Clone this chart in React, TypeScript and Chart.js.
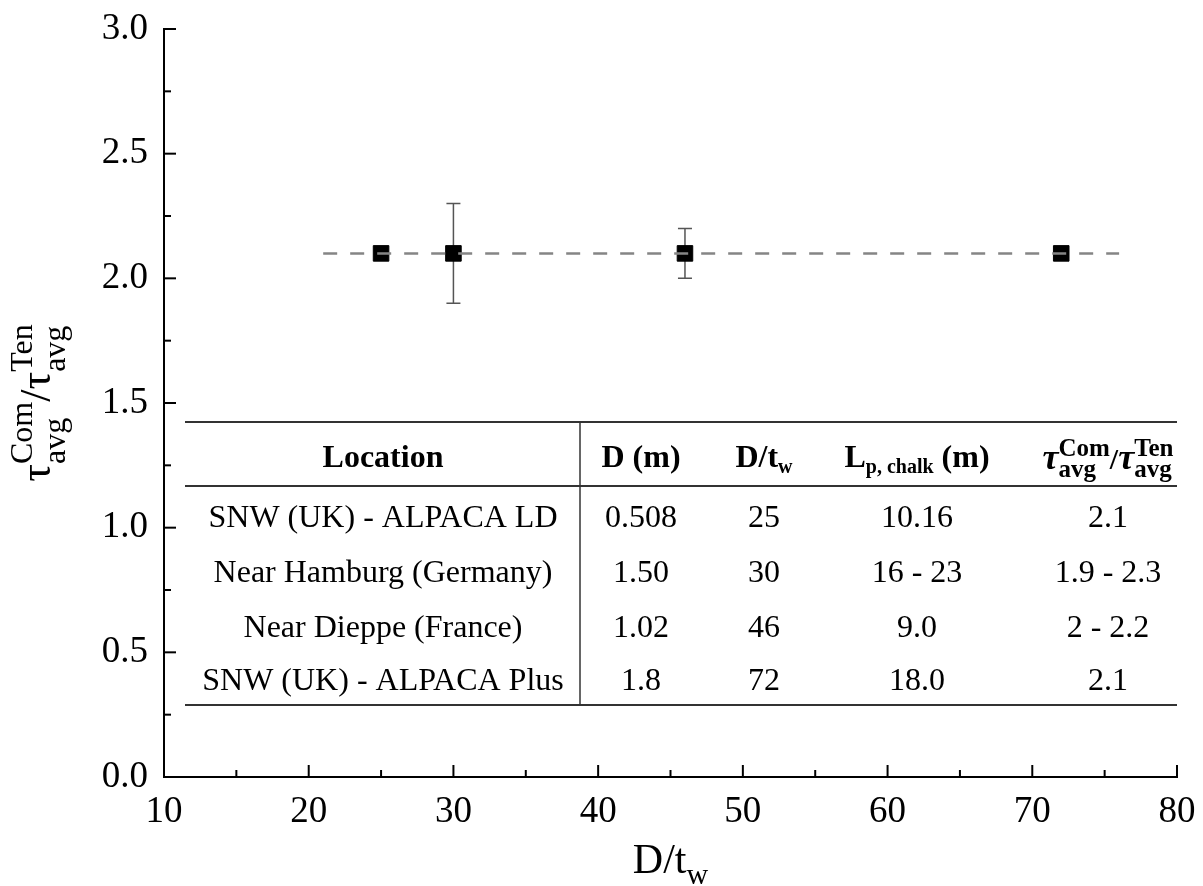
import React, { useEffect, useRef } from 'react';
import { Chart, registerables } from 'chart.js';

Chart.register(...registerables);

// ---------- data ----------
const slendernessValues = [25, 30, 46, 72];
const ratioValues = [2.1, 2.1, 2.1, 2.1];
const ratioLow: (number | null)[] = [null, 1.9, 2.0, null];
const ratioHigh: (number | null)[] = [null, 2.3, 2.2, null];
const trendX = [21, 76];
const trendY = [2.1, 2.1];

const X_MIN = 10;
const X_MAX = 80;
const X_STEP = 10;
const Y_MIN = 0;
const Y_MAX = 3;
const Y_STEP = 0.5;

const tableLocations = [
  'SNW (UK) - ALPACA LD',
  'Near Hamburg (Germany)',
  'Near Dieppe (France)',
  'SNW (UK) - ALPACA Plus',
];
const tableDiameters = ['0.508', '1.50', '1.02', '1.8'];
const tableSlenderness = ['25', '30', '46', '72'];
const tablePileLengths = ['10.16', '16 - 23', '9.0', '18.0'];
const tableRatios = ['2.1', '1.9 - 2.3', '2 - 2.2', '2.1'];

// ---------- styling ----------
const SERIF = '"Liberation Serif", "Times New Roman", serif';
const f = (size: number, style = '') => `${style} ${size}px ${SERIF}`.trim();

type Piece = { t: string; font: string; dy?: number; stackNext?: boolean };

function measurePieces(ctx: CanvasRenderingContext2D, pieces: Piece[]) {
  let cursor = 0;
  let stackStart: number | null = null;
  let stackW = 0;
  const pos: number[] = [];
  pieces.forEach((p) => {
    ctx.font = p.font;
    const w = ctx.measureText(p.t).width;
    if (stackStart !== null) {
      pos.push(stackStart);
      cursor = stackStart + Math.max(stackW, w);
      stackStart = null;
    } else if (p.stackNext) {
      pos.push(cursor);
      stackStart = cursor;
      stackW = w;
    } else {
      pos.push(cursor);
      cursor += w;
    }
  });
  return { pos, width: cursor };
}

function drawPieces(
  ctx: CanvasRenderingContext2D,
  pieces: Piece[],
  x: number,
  y: number,
  align: 'center' | 'left' = 'center'
) {
  const { pos, width } = measurePieces(ctx, pieces);
  const x0 = align === 'center' ? x - width / 2 : x;
  ctx.textAlign = 'left';
  ctx.textBaseline = 'alphabetic';
  pieces.forEach((p, i) => {
    ctx.font = p.font;
    ctx.fillText(p.t, x0 + pos[i], y + (p.dy || 0));
  });
}

const overlayPlugin = {
  id: 'overlay',
  beforeDatasetsDraw(chart: any) {
    const ctx: CanvasRenderingContext2D = chart.ctx;
    const xs = chart.scales.x;
    const ys = chart.scales.y;
    ctx.save();
    ctx.strokeStyle = '#555';
    ctx.lineWidth = 1.5;
    slendernessValues.forEach((xv, i) => {
      const lo = ratioLow[i];
      const hi = ratioHigh[i];
      if (lo === null || hi === null) return;
      const px = xs.getPixelForValue(xv);
      const pLo = ys.getPixelForValue(lo);
      const pHi = ys.getPixelForValue(hi);
      ctx.beginPath();
      ctx.moveTo(px, pLo);
      ctx.lineTo(px, pHi);
      ctx.moveTo(px - 7, pLo);
      ctx.lineTo(px + 7, pLo);
      ctx.moveTo(px - 7, pHi);
      ctx.lineTo(px + 7, pHi);
      ctx.stroke();
    });
    ctx.restore();
  },
  afterDraw(chart: any) {
    const ctx: CanvasRenderingContext2D = chart.ctx;
    const { left, right, top, bottom } = chart.chartArea;
    const xs = chart.scales.x;
    const ys = chart.scales.y;
    ctx.save();

    // axes
    ctx.strokeStyle = '#000';
    ctx.lineWidth = 2;
    ctx.beginPath();
    ctx.moveTo(left, top - 1);
    ctx.lineTo(left, bottom);
    ctx.lineTo(right + 1, bottom);
    ctx.stroke();

    // x ticks (inward, with minors)
    for (let i = 0; i <= (X_MAX - X_MIN) / 5; i++) {
      const v = X_MIN + i * 5;
      const px = xs.getPixelForValue(v);
      const len = v % X_STEP === 0 ? 12 : 7;
      ctx.beginPath();
      ctx.moveTo(px, bottom);
      ctx.lineTo(px, bottom - len);
      ctx.stroke();
    }
    // y ticks (inward, with minors)
    for (let i = 0; i <= (Y_MAX - Y_MIN) / 0.25; i++) {
      const v = Y_MIN + i * 0.25;
      const py = ys.getPixelForValue(v);
      const len = i % 2 === 0 ? 12 : 7;
      ctx.beginPath();
      ctx.moveTo(left, py);
      ctx.lineTo(left + len, py);
      ctx.stroke();
    }

    ctx.fillStyle = '#000';

    // x title D/t_w
    drawPieces(
      ctx,
      [
        { t: 'D/t', font: f(42) },
        { t: 'w', font: f(30), dy: 11 },
      ],
      (left + right) / 2,
      873
    );

    // y title
    ctx.save();
    ctx.translate(50, (top + bottom) / 2);
    ctx.rotate(-Math.PI / 2);
    drawPieces(
      ctx,
      [
        { t: 'τ', font: f(44) },
        { t: 'Com', font: f(32), dy: -18, stackNext: true },
        { t: 'avg', font: f(32), dy: 15 },
        { t: '/', font: f(44) },
        { t: 'τ', font: f(44) },
        { t: 'Ten', font: f(32), dy: -18, stackNext: true },
        { t: 'avg', font: f(32), dy: 15 },
      ],
      0,
      0
    );
    ctx.restore();

    // ---------- table ----------
    const tL = 185;
    const tR = right;
    const tTop = 422;
    const tHead = 486;
    const tBot = 705;
    const tDiv = 580;
    ctx.strokeStyle = '#333';
    ctx.lineWidth = 2;
    ctx.beginPath();
    ctx.moveTo(tL, tTop);
    ctx.lineTo(tR, tTop);
    ctx.moveTo(tL, tHead);
    ctx.lineTo(tR, tHead);
    ctx.moveTo(tL, tBot);
    ctx.lineTo(tR, tBot);
    ctx.stroke();
    ctx.lineWidth = 1.5;
    ctx.beginPath();
    ctx.moveTo(tDiv, tTop);
    ctx.lineTo(tDiv, tBot);
    ctx.stroke();

    const colX = [383, 641, 764, 917, 1108];
    const headBase = 467;
    const bold = (s: number) => f(s, 'bold');
    drawPieces(ctx, [{ t: 'Location', font: bold(32) }], colX[0], headBase);
    drawPieces(ctx, [{ t: 'D (m)', font: bold(32) }], colX[1], headBase);
    drawPieces(
      ctx,
      [
        { t: 'D/t', font: bold(32) },
        { t: 'w', font: bold(20), dy: 6 },
      ],
      colX[2],
      headBase
    );
    drawPieces(
      ctx,
      [
        { t: 'L', font: bold(32) },
        { t: 'p, chalk', font: bold(20), dy: 6 },
        { t: ' (m)', font: bold(32) },
      ],
      colX[3],
      headBase
    );
    drawPieces(
      ctx,
      [
        { t: 'τ', font: f(36, 'italic bold') },
        { t: 'Com', font: bold(25), dy: -13, stackNext: true },
        { t: 'avg', font: bold(25), dy: 8 },
        { t: '/', font: bold(30) },
        { t: 'τ', font: f(36, 'italic bold') },
        { t: 'Ten', font: bold(25), dy: -13, stackNext: true },
        { t: 'avg', font: bold(25), dy: 8 },
      ],
      colX[4],
      headBase + 2
    );

    const rowBase = [527, 582, 637, 690];
    const cols = [tableLocations, tableDiameters, tableSlenderness, tablePileLengths, tableRatios];
    rowBase.forEach((yb, r) => {
      cols.forEach((col, c) => {
        drawPieces(ctx, [{ t: col[r], font: f(32) }], colX[c], yb);
      });
    });

    ctx.restore();
  },
};

export default function App() {
  const canvasRef = useRef<HTMLCanvasElement | null>(null);

  useEffect(() => {
    if (!canvasRef.current) return;
    const chart = new Chart(canvasRef.current, {
      type: 'scatter',
      data: {
        datasets: [
          {
            type: 'line',
            label: 'Trend',
            data: trendX.map((x, i) => ({ x, y: trendY[i] })),
            borderColor: '#858585',
            borderWidth: 2.5,
            borderDash: [14, 13],
            pointRadius: 0,
            fill: false,
            order: 0,
          } as any,
          {
            label: 'Data',
            data: slendernessValues.map((x, i) => ({ x, y: ratioValues[i] })),
            pointStyle: 'rect',
            pointRadius: 11,
            backgroundColor: '#000',
            borderColor: '#000',
            borderWidth: 1,
            order: 1,
          },
        ],
      },
      options: {
        responsive: false,
        animation: false,
        events: [],
        layout: { padding: { top: 29, right: 26, left: 0, bottom: 0 } },
        plugins: {
          legend: { display: false },
          tooltip: { enabled: false },
          title: { display: false },
        },
        scales: {
          x: {
            type: 'linear',
            min: X_MIN,
            max: X_MAX,
            grid: { display: false, drawTicks: false },
            border: { display: false },
            ticks: {
              stepSize: X_STEP,
              color: '#000',
              font: { family: SERIF, size: 37 },
              padding: 13,
              maxRotation: 0,
            },
            afterFit: (scale: any) => {
              scale.height = 109;
              scale.paddingLeft = 0;
              scale.paddingRight = 0;
            },
          },
          y: {
            type: 'linear',
            min: Y_MIN,
            max: Y_MAX,
            grid: { display: false, drawTicks: false },
            border: { display: false },
            ticks: {
              stepSize: Y_STEP,
              color: '#000',
              font: { family: SERIF, size: 37 },
              padding: 16,
              callback: (v: any) => Number(v).toFixed(1),
            },
            afterFit: (scale: any) => {
              scale.width = 164;
              scale.paddingTop = 0;
              scale.paddingBottom = 0;
            },
          },
        },
      },
      plugins: [overlayPlugin],
    });
    return () => chart.destroy();
  }, []);

  return (
    <div style={{ position: 'absolute', left: 0, top: 0, width: 1203, height: 886, background: '#fff' }}>
      <canvas ref={canvasRef} width={1203} height={886} style={{ display: 'block' }} />
    </div>
  );
}
